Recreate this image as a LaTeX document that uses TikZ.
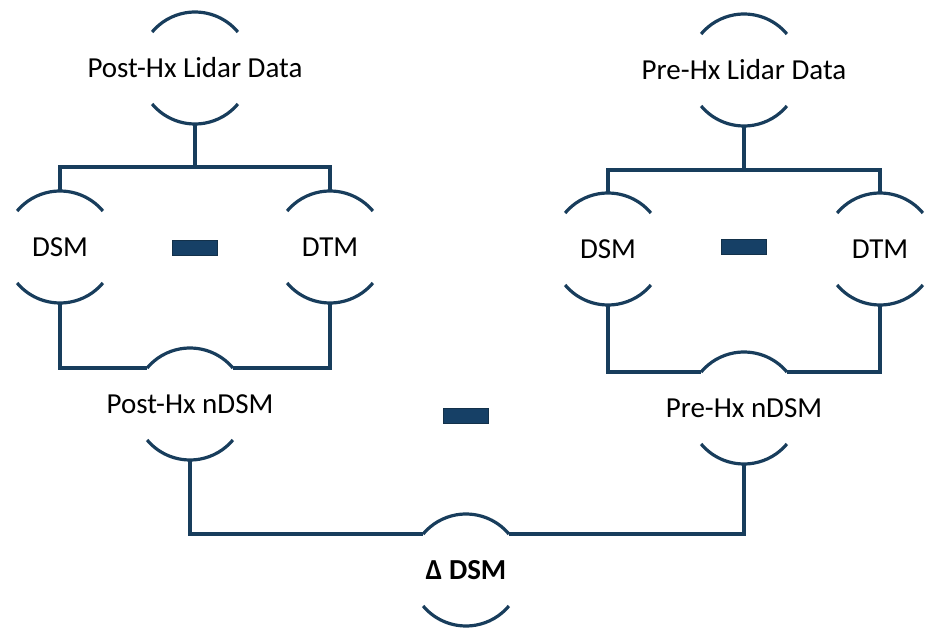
\documentclass[tikz,border=0pt]{standalone}
\usepackage{fontspec}
\setmainfont{Carlito}
\usetikzlibrary{positioning,calc}
\definecolor{navy}{RGB}{24,61,92}
\definecolor{navyfill}{RGB}{22,64,102}
\newcommand{\lbl}[1]{\makebox[0pt]{#1}}

\begin{document}
\begin{tikzpicture}[x=1pt, y=1pt,
    every node/.style={font=\fontsize{29}{35}\selectfont},
    wire/.style={draw=navy, line width=3.2pt, line join=miter},
    ring/.style={circle, minimum size=112pt, inner sep=0pt, outer sep=0pt},
    minus/.style={rectangle, minimum width=45pt, minimum height=15pt, inner sep=0pt,
      fill=navyfill, draw=navy!80!black, line width=0.8pt}]
    \useasboundingbox (0,0) rectangle (926,-628);

    % Post-Hx branch (left)
    \node[ring] (postlid) at (195,-68)  {\lbl{Post-Hx Lidar Data}};
    \node[ring] (dsmA)    at (60,-247)  {\lbl{DSM}};
    \node[ring] (dtmA)    at (330,-247) {\lbl{DTM}};
    \node[ring] (postnd)  at (190,-404) {\lbl{Post-Hx nDSM}};
    \node[minus] (minA)   at (195,-248) {};

    % Pre-Hx branch (right)
    \node[ring] (prelid)  at (744,-70)  {\lbl{Pre-Hx Lidar Data}};
    \node[ring] (dsmB)    at (608,-249) {\lbl{DSM}};
    \node[ring] (dtmB)    at (880,-249) {\lbl{DTM}};
    \node[ring] (prend)   at (744,-408) {\lbl{Pre-Hx nDSM}};
    \node[minus] (minB)   at (744,-247) {};

    % result
    \node[ring] (delta)   at (466,-570) {\lbl{\bfseries Δ DSM}};
    \node[minus] (minC)   at (466,-416) {};

    % the two arcs of every ring
    \foreach \n in {postlid,dsmA,dtmA,postnd,prelid,dsmB,dtmB,prend,delta} {
      \draw[wire] (\n.40) arc[start angle=40, end angle=140, radius=56pt];
      \draw[wire] (\n.220) arc[start angle=220, end angle=320, radius=56pt];
    }

    % connectors
    \draw[wire] (postlid.south) -- ++(0,-43) coordinate (postbar);
    \draw[wire] (dsmA.north) |- (postbar) -| (dtmA.north);
    \draw[wire] (dsmA.south) |- (postnd.140);
    \draw[wire] (dtmA.south) |- (postnd.40);

    \draw[wire] (prelid.south) -- ++(0,-44) coordinate (prebar);
    \draw[wire] (dsmB.north) |- (prebar) -| (dtmB.north);
    \draw[wire] (dsmB.south) |- (prend.140);
    \draw[wire] (dtmB.south) |- (prend.40);

    \draw[wire] (postnd.south) |- (delta.140);
    \draw[wire] (prend.south) |- (delta.40);
\end{tikzpicture}
\end{document}
